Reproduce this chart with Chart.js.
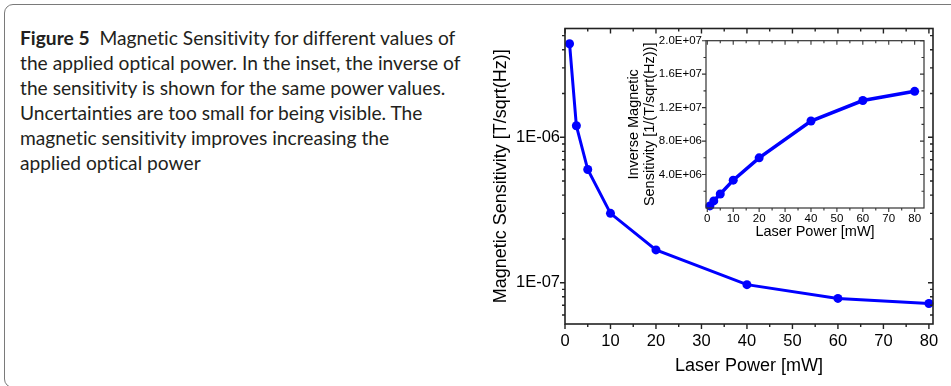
<!DOCTYPE html>
<html>
<head>
<meta charset="utf-8">
<script src="https://cdn.jsdelivr.net/npm/chart.js@4.4.0/dist/chart.umd.min.js"></script>
<style>
  html, body { margin: 0; padding: 0; background: #fff; width: 951px; height: 386px; overflow: hidden; position: relative; }
  #frame { position: absolute; left: 4px; top: 4px; width: 1000px; height: 384px; border: 1.5px solid #7a7a7a; border-radius: 9px; box-sizing: border-box; }
  #caption { position: absolute; left: 20px; top: 25px; font-family: Lato, "Noto Sans", sans-serif; font-size: 19.2px; line-height: 25px; color: #231f20; white-space: nowrap; font-variant-ligatures: no-common-ligatures; }
  #caption b { font-weight: 700; }
  #mainWrap { position: absolute; left: 480px; top: 0; width: 471px; height: 386px; }
  #insetWrap { position: absolute; left: 600px; top: 20px; width: 330px; height: 230px; }
</style>
</head>
<body>
<div id="frame"></div>
<div id="caption"><b>Figure 5</b>&nbsp;&nbsp;Magnetic Sensitivity for different values of<br>the applied optical power. In the inset, the inverse of<br>the sensitivity is shown for the same power values.<br>Uncertainties are too small for being visible. The<br>magnetic sensitivity improves increasing the<br>applied optical power</div>
<div id="mainWrap"><canvas id="mainChart"></canvas></div>
<div id="insetWrap"><canvas id="insetChart"></canvas></div>
<script>
// ---- data ----
const laserPower = [1, 2.5, 5, 10, 20, 40, 60, 80];
const sensitivity = [4.4e-6, 1.2e-6, 6.0e-7, 3.0e-7, 1.68e-7, 9.7e-8, 7.8e-8, 7.2e-8];
const inverseSensitivity = [2.5e5, 8.5e5, 1.67e6, 3.33e6, 6.0e6, 1.04e7, 1.285e7, 1.395e7];
const mainXTicks = [0, 10, 20, 30, 40, 50, 60, 70, 80];
const mainYTicks = [1e-7, 1e-6];
const insetXTicks = [0, 10, 20, 30, 40, 50, 60, 70, 80];
const insetYTicks = [4e6, 8e6, 1.2e7, 1.6e7, 2e7];

const BLUE = '#0000ff';
const AXIS_FONT = 'Liberation Sans, Arial, sans-serif';

function sci(v, dec) {
  const e = Math.floor(Math.log10(v) + 1e-9);
  const m = v / Math.pow(10, e);
  const es = (e < 0 ? '-' : '+') + String(Math.abs(e)).padStart(2, '0');
  return m.toFixed(dec) + 'E' + es;
}

function midpoints(arr) {
  const out = [];
  for (let i = 0; i < arr.length - 1; i++) out.push((arr[i] + arr[i + 1]) / 2);
  return out;
}

// frame + ticks on all four sides (left/bottom outward, top/right inward)
function framePlugin(cfg) {
  return {
    id: 'frameTicks_' + cfg.name,
    afterDatasetsDraw(chart) {
      const { ctx, chartArea: a, scales: { x, y } } = chart;
      ctx.save();
      ctx.strokeStyle = cfg.color;
      ctx.lineWidth = cfg.frameWidth;
      ctx.strokeRect(a.left, a.top, a.right - a.left, a.bottom - a.top);
      ctx.lineWidth = cfg.tickWidth;
      ctx.beginPath();
      const xt = (v, len) => {
        const p = x.getPixelForValue(v);
        if (p < a.left - 0.5 || p > a.right + 0.5) return;
        ctx.moveTo(p, a.bottom); ctx.lineTo(p, a.bottom + len);
        ctx.moveTo(p, a.top); ctx.lineTo(p, a.top + len);
      };
      const yt = (v, len) => {
        const p = y.getPixelForValue(v);
        if (p < a.top - 0.5 || p > a.bottom + 0.5) return;
        ctx.moveTo(a.left, p); ctx.lineTo(a.left - len, p);
        ctx.moveTo(a.right, p); ctx.lineTo(a.right - len, p);
      };
      cfg.xMajor.forEach(v => xt(v, cfg.major));
      cfg.xMinor.forEach(v => xt(v, cfg.minor));
      cfg.yMajor.forEach(v => yt(v, cfg.major));
      cfg.yMinor.forEach(v => yt(v, cfg.minor));
      ctx.stroke();
      ctx.restore();
    }
  };
}

// log minor ticks (2..9 per decade) inside the axis range
function logMinor(min, max) {
  const out = [];
  for (let e = Math.floor(Math.log10(min)); e <= Math.ceil(Math.log10(max)); e++) {
    for (let m = 2; m <= 9; m++) {
      const v = m * Math.pow(10, e);
      if (v >= min && v <= max) out.push(v);
    }
  }
  return out;
}

Chart.defaults.font.family = AXIS_FONT;
Chart.defaults.color = '#000';

const mainYMin = 5.2e-8, mainYMax = 5.6e-6;
const noGrid = { display: false, drawTicks: false, tickLength: 0 };

new Chart(document.getElementById('mainChart'), {
  type: 'scatter',
  data: {
    datasets: [{
      data: laserPower.map((p, i) => ({ x: p, y: sensitivity[i] })),
      showLine: true,
      borderColor: BLUE,
      backgroundColor: BLUE,
      borderWidth: 3,
      pointRadius: 4.5,
      pointBorderWidth: 0,
      clip: false
    }]
  },
  options: {
    responsive: true,
    maintainAspectRatio: false,
    animation: false,
    devicePixelRatio: 1,
    layout: { padding: { top: 28.5, right: 18, left: 0, bottom: 0 } },
    plugins: { legend: { display: false }, tooltip: { enabled: false } },
    scales: {
      x: {
        type: 'linear', min: 0, max: 80.9,
        afterBuildTicks: s => { s.ticks = mainXTicks.map(v => ({ value: v })); },
        afterFit: s => { s.height = 62; },
        grid: noGrid,
        border: { display: false },
        ticks: { font: { size: 16.5 }, padding: 8, maxRotation: 0, autoSkip: false, color: '#000' },
        title: { display: true, text: 'Laser Power [mW]', font: { size: 18 }, color: '#000', padding: { top: 0, bottom: 9 } }
      },
      y: {
        type: 'logarithmic', min: mainYMin, max: mainYMax,
        afterBuildTicks: s => { s.ticks = mainYTicks.map(v => ({ value: v })); },
        afterFit: s => { s.width = 85; },
        grid: noGrid,
        border: { display: false },
        ticks: { font: { size: 16.5 }, padding: 5, autoSkip: false, color: '#000', callback: v => sci(v, 0) },
        title: { display: true, text: 'Magnetic Sensitivity [T/sqrt(Hz)]', font: { size: 18 }, color: '#000', padding: { top: 10, bottom: 0 } }
      }
    }
  },
  plugins: [framePlugin({
    name: 'main', color: '#222', frameWidth: 1.6, tickWidth: 1.4, major: 5, minor: 3,
    xMajor: mainXTicks, xMinor: midpoints(mainXTicks),
    yMajor: mainYTicks, yMinor: logMinor(mainYMin, mainYMax)
  })]
});

new Chart(document.getElementById('insetChart'), {
  type: 'scatter',
  data: {
    datasets: [{
      data: laserPower.map((p, i) => ({ x: p, y: inverseSensitivity[i] })),
      showLine: true,
      borderColor: BLUE,
      backgroundColor: BLUE,
      borderWidth: 3.5,
      pointRadius: 4.5,
      pointBorderWidth: 0,
      clip: false
    }]
  },
  options: {
    responsive: true,
    maintainAspectRatio: false,
    animation: false,
    devicePixelRatio: 1,
    layout: { padding: { top: 20.7, right: 6, left: 0, bottom: 0 } },
    plugins: { legend: { display: false }, tooltip: { enabled: false } },
    scales: {
      x: {
        type: 'linear', min: -0.5, max: 83.6,
        afterBuildTicks: s => { s.ticks = insetXTicks.map(v => ({ value: v })); },
        afterFit: s => { s.height = 42; },
        grid: noGrid,
        border: { display: false },
        ticks: { font: { size: 11.5 }, padding: 4, maxRotation: 0, autoSkip: false, color: '#000' },
        title: { display: true, text: 'Laser Power [mW]', font: { size: 14.5 }, color: '#000', padding: { top: 0, bottom: 9.3 } }
      },
      y: {
        type: 'linear', min: 0, max: 2e7,
        afterBuildTicks: s => { s.ticks = insetYTicks.map(v => ({ value: v })); },
        afterFit: s => { s.width = 106; },
        grid: noGrid,
        border: { display: false },
        ticks: { font: { size: 11.5 }, padding: 4, autoSkip: false, color: '#000', callback: v => sci(v, 1) },
        title: { display: true, text: ['Inverse Magnetic', 'Sensitivity [1/(T/sqrt(Hz))]'], font: { size: 14.5, lineHeight: 1.1 }, color: '#000', padding: { top: 26, bottom: 0 } }
      }
    }
  },
  plugins: [framePlugin({
    name: 'inset', color: '#333', frameWidth: 1.2, tickWidth: 1.1, major: 4, minor: 2.5,
    xMajor: insetXTicks, xMinor: midpoints(insetXTicks),
    yMajor: insetYTicks, yMinor: midpoints([0].concat(insetYTicks))
  })]
});
</script>
</body>
</html>
